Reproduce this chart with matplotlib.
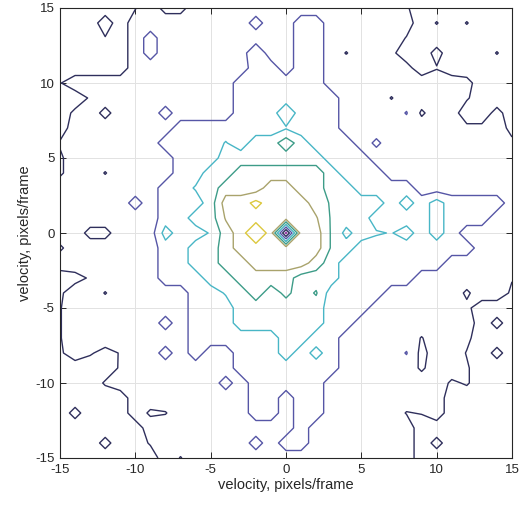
import numpy as np
import matplotlib
matplotlib.use("Agg")
import matplotlib.pyplot as plt

plt.rcParams['font.family'] = ['Liberation Sans', 'DejaVu Sans']
plt.rcParams['axes.unicode_minus'] = False

# velocity bins (pixels/frame) on both axes
velocity = np.arange(-15, 16)

# contour levels and their line colours
levels = [-0.5, 0.5, 1.5, 2.5, 3.5, 4.5, 5.5]
level_colors = ['#9a3fa8', '#2f2f5c', '#5656a6', '#48b6c6', '#3d9c88', '#a9a36c', '#dcc83e']

# histogram values, coded one character per cell
code_values = {
    '0': 0.0, '1': 1.0, '2': 2.0, '3': 3.0, '4': 4.0, '5': 5.0, '6': 6.0,
    'n': -0.8, 'a': 0.2, 'b': 0.35, 'c': 0.45, 'd': 0.55, 'e': 0.6, 'f': 0.7,
    'g': 0.8, 'h': 0.9, 'p': 1.56, 'P': 1.7, 'q': 1.9, 'H': 2.2, 'r': 2.3,
    's': 2.4, 'S': 2.45, 't': 2.6, 'i': 2.56, 'u': 2.85, 'o': 2.95, 'v': 3.3,
    'm': 3.4, 'W': 3.75, 'j': 3.6, 'w': 4.1, 'k': 4.6, 'l': 5.8, 'x': 6.2, 'y': 6.6,
}

# rows from y = +15 (first) down to y = -15 (last); columns x = -15 .. +15
histogram_rows = [
    "00000c1aa11111111111111e0000000",   # 15
    "0001011111111q112211111h0d0d000",   # 14
    "000c01q1111111112211111c0000000",   # 13
    "000001q111111r11221c11f00g000d0",   # 12
    "00000111111112212211111g0c00000",   # 11
    "c11111111111222222111111111g000",   # 10
    "00e1111111112222222111c1111e000",   # 9
    "0f1a111q1111222v2221111pb1h00g0",   # 8
    "011111112222222s22211111111ff1a",   # 7
    "e1111112222i233w32221P11111111f",   # 6
    "b111111122233333332221111111111",   # 5
    "b11c111122334444443222111111111",   # 4
    "111111122t344455443322221111111",   # 3
    "11111q1222355l5554m3332o2o22221",   # 2
    "11111112233k55555km332222o22211",   # 1
    "11aa111o22t45y5n55mH3tSo2o21111",   # 0
    "b11111122334555555m322222222111",   # -1
    "1111111223344555543222222211111",   # -2
    "0ae111122233444433322222111111d",   # -3
    "b11c1111122t343W3j222211111b11b",   # -4
    "c11111111222333333222111111f000",   # -5
    "c111111q122233333322111111110g0",   # -6
    "c11111111222222332211111c11f000",   # -7
    "b1ead11q121122232u21111pa11c0g0",   # -8
    "0000e1111111222222211111b11e000",   # -9
    "000e1111111q12222211111111be000",   # -10
    "0000011111111221221111111100000",   # -11
    "0g0001bc111112212211111cd100000",   # -12
    "0000001111111111211111110000000",   # -13
    "000g00e111111q12211111110g00000",   # -14
    "00000001c1111111111111110000000",   # -15
]

Z = np.array([[code_values[ch] for ch in row] for row in histogram_rows])[::-1]

fig = plt.figure(figsize=(5.28, 5.07), dpi=100)
ax = fig.add_axes([60 / 528, 49 / 507, 452 / 528, 450 / 507])

ax.contour(velocity, velocity, Z, levels=levels, colors=level_colors, linewidths=1.0)

ticks = np.arange(-15, 16, 5)
ax.set_xticks(ticks)
ax.set_yticks(ticks)
ax.set_xlim(-15, 15)
ax.set_ylim(-15, 15)
ax.grid(True, color='#e2e2e2', linewidth=0.7)
ax.set_axisbelow(True)
ax.tick_params(direction='in', top=True, right=True, length=4, width=0.7,
               color='#262626', labelcolor='#262626', labelsize=9.5, pad=4)
for s in ax.spines.values():
    s.set_color('#262626')
    s.set_linewidth(0.8)
ax.set_xlabel('velocity, pixels/frame', fontsize=10.5, color='#262626', labelpad=2)
ax.set_ylabel('velocity, pixels/frame', fontsize=10.5, color='#262626', labelpad=2)

fig.savefig('out.png', dpi=100)
